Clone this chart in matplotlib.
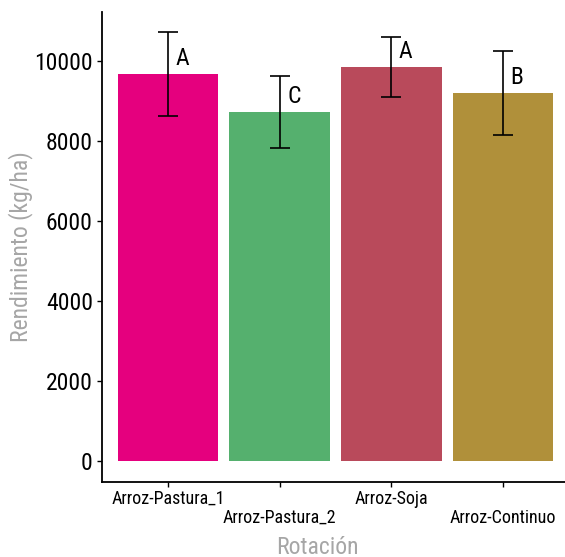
import matplotlib
matplotlib.use('Agg')
import matplotlib.pyplot as plt

# data
rotaciones = ['Arroz-Pastura_1', 'Arroz-Pastura_2', 'Arroz-Soja', 'Arroz-Continuo']
rendimiento = [9663, 8714, 9838, 9189]
desvio = [1040, 900, 760, 1045]
letras = ['A', 'C', 'A', 'B']
colores = ['#E5007E', '#55B06E', '#B94A5B', '#B0903A']

plt.rcParams['font.family'] = ['Roboto Condensed', 'DejaVu Sans']

W, H = 565, 557
fig = plt.figure(figsize=(W / 100, H / 100), dpi=100)
ax = fig.add_axes([102 / W, (H - 482) / H, (565 - 102) / W, (482 - 12) / H])

x = list(range(len(rotaciones)))
ax.bar(x, rendimiento, width=0.9, color=colores, zorder=2)
ax.errorbar(x, rendimiento, yerr=desvio, fmt='none', ecolor='black',
            elinewidth=1.2, capsize=7.5, capthick=1.2, zorder=3)

# letters of significance, just right of the error bar
for xi, yi, l in zip(x, rendimiento, letras):
    ax.annotate(l, (xi, yi), xytext=(5.5, 3), textcoords='offset points',
                ha='left', va='bottom', fontsize=17, color='black')

ax.set_xlim(-0.59, 3.555)
ax.set_ylim(-524, 11211)
ax.set_yticks([0, 2000, 4000, 6000, 8000, 10000])
ax.tick_params(axis='y', labelsize=17, length=3.6, width=1, pad=3)
ax.tick_params(axis='x', labelsize=13, length=3.6, width=1, pad=2)

# alternate the category labels on two rows
ax.set_xticks(x)
ax.set_xticklabels([r if i % 2 == 0 else '\n' + r for i, r in enumerate(rotaciones)],
                   linespacing=1.1)

for s in ['top', 'right']:
    ax.spines[s].set_visible(False)
for s in ['left', 'bottom']:
    ax.spines[s].set_linewidth(1.3)

ax.set_ylabel('Rendimiento (kg/ha)', fontsize=17, color='#A6A6A6')
ax.yaxis.set_label_coords(-69 / 463, 0.5)
fig.text(317 / W, 3 / H, 'Rotación', fontsize=17, color='#A6A6A6',
         ha='center', va='baseline')

fig.savefig('out.png', dpi=100)
